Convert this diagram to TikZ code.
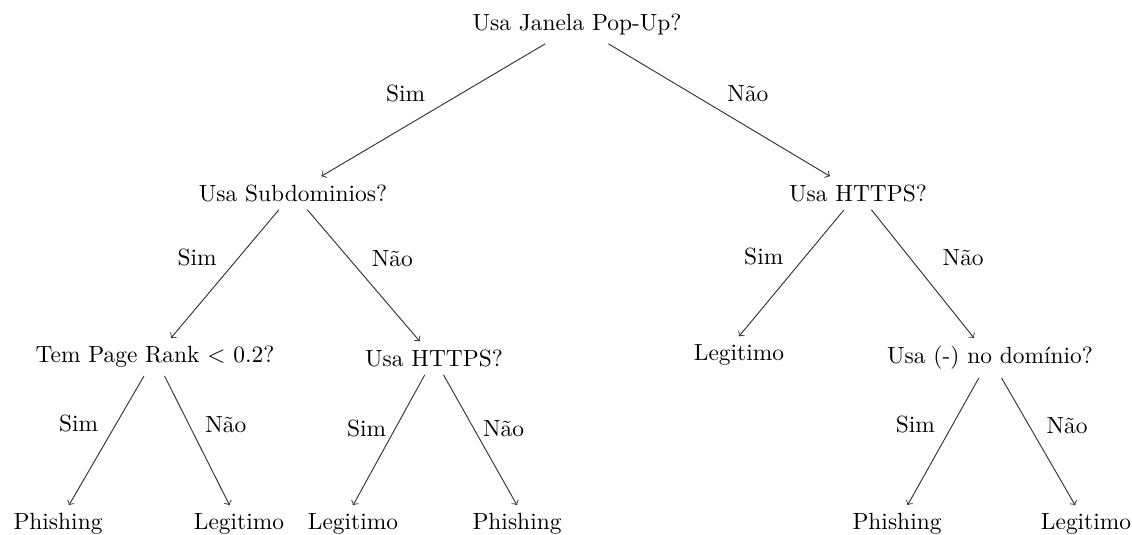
\documentclass[tikz,border=0pt]{standalone}
\usepackage{amsmath}
\usepackage{amssymb}
\usepackage{tikz}
\usetikzlibrary{arrows}

\begin{document}
\begin{tikzpicture}[x=0.427pt,y=-0.427pt, every node/.style={inner sep=3.33pt}, seta/.style={->,draw=black!80}]
\useasboundingbox (0,0) rectangle (1132,534);

\node (raiz) at (577,25) {Usa Janela Pop-Up?};
\node (subdom) at (293,193) {Usa Subdominios?};
\node (httpsA) at (858,193) {Usa HTTPS?};
\node (rank) at (155,357) {Tem Page Rank $<$ 0.2?};
\node (httpsB) at (434,358) {Usa HTTPS?};
\node (legitA) at (739,355) {Legitimo};
\node (hifen) at (990,358) {Usa (-) no domínio?};
\node (folha1) at (58,524) {Phishing};
\node (folha2) at (239,524) {Legitimo};
\node (folha3) at (353,524) {Legitimo};
\node (folha4) at (517,524) {Phishing};
\node (folha5) at (897,524) {Phishing};
\node (folha6) at (1086,524) {Legitimo};

\draw[seta] (raiz) -- (subdom) node[midway,above left] {Sim};
\draw[seta] (raiz) -- (httpsA) node[midway,above right] {Não};
\draw[seta] (subdom) -- (rank) node[midway,above left] {Sim};
\draw[seta] (subdom) -- (httpsB) node[midway,above right] {Não};
\draw[seta] (httpsA) -- (legitA.north) node[midway,above left] {Sim};
\draw[seta] (httpsA) -- (hifen) node[midway,above right,xshift=5pt] {Não};
\draw[seta] (rank) -- (folha1) node[midway,above left] {Sim};
\draw[seta] (rank) -- (folha2) node[midway,above right] {Não};
\draw[seta] (httpsB) -- (folha3.north) node[midway,above left,inner sep=1pt] {Sim};
\draw[seta] (httpsB) -- (folha4.north) node[midway,above right,inner sep=1pt] {Não};
\draw[seta] (hifen) -- (folha5) node[midway,above left] {Sim};
\draw[seta] (hifen) -- (folha6) node[midway,above right] {Não};
\end{tikzpicture}
\end{document}
